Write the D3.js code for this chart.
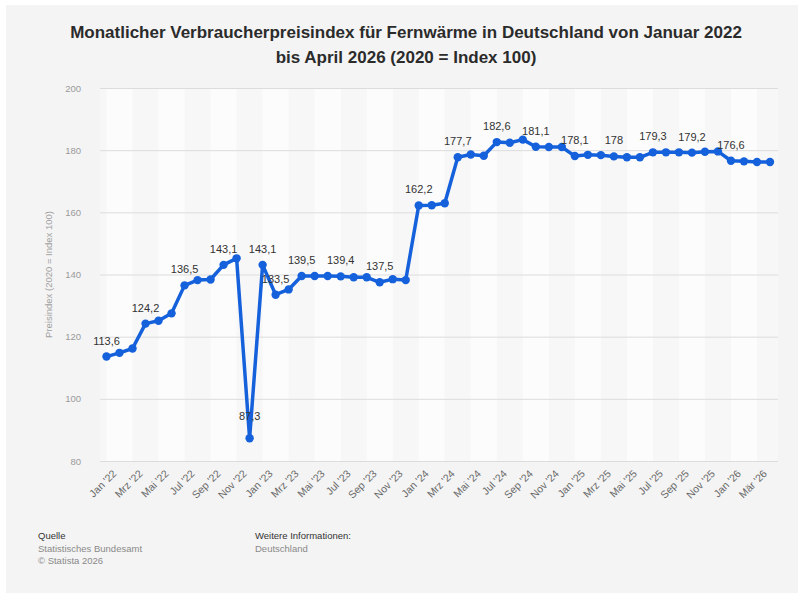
<!DOCTYPE html>
<html>
<head>
<meta charset="utf-8">
<script src="https://cdn.jsdelivr.net/npm/d3@7"></script>
<style>
  body { margin: 0; background: #fff; font-family: "Liberation Sans", Arial, sans-serif; }
</style>
</head>
<body>
<svg id="chart" width="798" height="595"></svg>
<script>
// Monatsnamen / Labels
const months = ["Jan", "Feb", "Mrz", "Apr", "Mai", "Jun", "Jul", "Aug", "Sep", "Okt", "Nov", "Dez"];
const years = ["22", "23", "24", "25", "26"];
const periods = [];
years.forEach(y => months.forEach(m => periods.push(m + " '" + y)));
periods.length = 52; // Jan '22 .. Apr '26
periods[50] = "Mär '26"; // Statista writes this one with umlaut

const values = [
  113.6, 114.8, 116.2, 124.2, 125.1, 127.5, 136.5, 138.2, 138.4, 143.1, 145.2, 87.3,
  143.1, 133.5, 135.2, 139.5, 139.5, 139.5, 139.4, 139.1, 139.1, 137.5, 138.5, 138.2,
  162.2, 162.3, 162.9, 177.7, 178.6, 178.2, 182.6, 182.4, 183.4, 181.1, 181.0, 181.0,
  178.1, 178.5, 178.4, 178.0, 177.7, 177.7, 179.3, 179.3, 179.3, 179.2, 179.5, 179.6,
  176.6, 176.4, 176.2, 176.2
];
// indices of points that carry a value label
const labelled = [0, 3, 6, 9, 11, 12, 13, 15, 18, 21, 24, 27, 30, 33, 36, 39, 42, 45, 48];
const yTicks = [80, 100, 120, 140, 160, 180, 200];

const svg = d3.select("#chart");
const fmt = v => String(v).replace(".", ",");

// panel
svg.append("rect").attr("x", 6).attr("y", 5).attr("width", 792).attr("height", 588)
  .attr("fill", "#f4f4f4");

const pLeft = 100, pRight = 778, pTop = 88, pBottom = 461;
const x = d3.scalePoint().domain(periods).range([106.5, 770]);
const y = d3.scaleLinear().domain([80, 200]).range([pBottom, pTop]);

// title
svg.append("text").attr("x", 406).attr("y", 38).attr("text-anchor", "middle")
  .attr("font-size", 17).attr("font-weight", "bold").attr("fill", "#2b2b2b")
  .text("Monatlicher Verbraucherpreisindex für Fernwärme in Deutschland von Januar 2022");
svg.append("text").attr("x", 406).attr("y", 63).attr("text-anchor", "middle")
  .attr("font-size", 17).attr("font-weight", "bold").attr("fill", "#2b2b2b")
  .text("bis April 2026 (2020 = Index 100)");

// plot background with faint vertical stripes
svg.append("rect").attr("x", pLeft).attr("y", pTop).attr("width", pRight - pLeft).attr("height", pBottom - pTop)
  .attr("fill", "#f7f7f7");
const bands = periods.filter((p, i) => i % 4 === 0);
svg.append("g").selectAll("rect").data(bands).enter().append("rect")
  .attr("x", d => x(d))
  .attr("y", pTop)
  .attr("width", x.step() * 2)
  .attr("height", pBottom - pTop)
  .attr("fill", "#fcfcfc");

// grid + y axis
const yAxis = svg.append("g").attr("transform", `translate(${pLeft},0)`)
  .call(d3.axisLeft(y).tickValues(yTicks).tickSize(-(pRight - pLeft)).tickPadding(19));
yAxis.select(".domain").remove();
yAxis.selectAll(".tick line").attr("stroke", "#dcdcdc");
yAxis.selectAll(".tick text").attr("fill", "#9a9a9a").attr("font-size", 9.5)
  .attr("font-family", "Liberation Sans, Arial, sans-serif");

svg.append("text")
  .attr("transform", `translate(52,${(pTop + pBottom) / 2}) rotate(-90)`)
  .attr("text-anchor", "middle").attr("font-size", 9.5).attr("fill", "#a0a0a0")
  .text("Preisindex (2020 = Index 100)");

// x axis
const xAxis = svg.append("g").attr("transform", `translate(0,${pBottom})`)
  .call(d3.axisBottom(x).tickValues(periods.filter((p, i) => i % 2 === 0)).tickSize(0).tickPadding(8));
xAxis.select(".domain").remove();
xAxis.selectAll(".tick text")
  .attr("fill", "#6a6a6a").attr("font-size", 10.5)
  .attr("font-family", "Liberation Sans, Arial, sans-serif")
  .attr("text-anchor", "end")
  .attr("dy", "0.35em")
  .attr("transform", "translate(2,5) rotate(-45)");

// line
const line = d3.line().x((d, i) => x(periods[i])).y(d => y(d));
svg.append("path").datum(values)
  .attr("d", line).attr("fill", "none")
  .attr("stroke", "#1561dc").attr("stroke-width", 3.5).attr("stroke-linejoin", "round");

svg.append("g").selectAll("circle").data(values).enter().append("circle")
  .attr("cx", (d, i) => x(periods[i]))
  .attr("cy", d => y(d))
  .attr("r", 4.2)
  .attr("fill", "#1561dc");

// value labels
svg.append("g").selectAll("text").data(labelled).enter().append("text")
  .attr("x", i => x(periods[i]))
  .attr("y", i => i === 11 ? y(values[i]) - 18 : y(values[i]) - 12)
  .attr("text-anchor", "middle")
  .attr("font-size", 11)
  .attr("fill", "#333")
  .text(i => fmt(values[i]));

// footer
const foot = svg.append("g").attr("font-size", 9.5);
foot.append("text").attr("x", 38).attr("y", 539).attr("fill", "#333").text("Quelle");
foot.append("text").attr("x", 38).attr("y", 552).attr("fill", "#8a8a8a").text("Statistisches Bundesamt");
foot.append("text").attr("x", 38).attr("y", 564).attr("fill", "#8a8a8a").text("© Statista 2026");
foot.append("text").attr("x", 255).attr("y", 539).attr("fill", "#333").text("Weitere Informationen:");
foot.append("text").attr("x", 255).attr("y", 552).attr("fill", "#8a8a8a").text("Deutschland");
</script>
</body>
</html>
